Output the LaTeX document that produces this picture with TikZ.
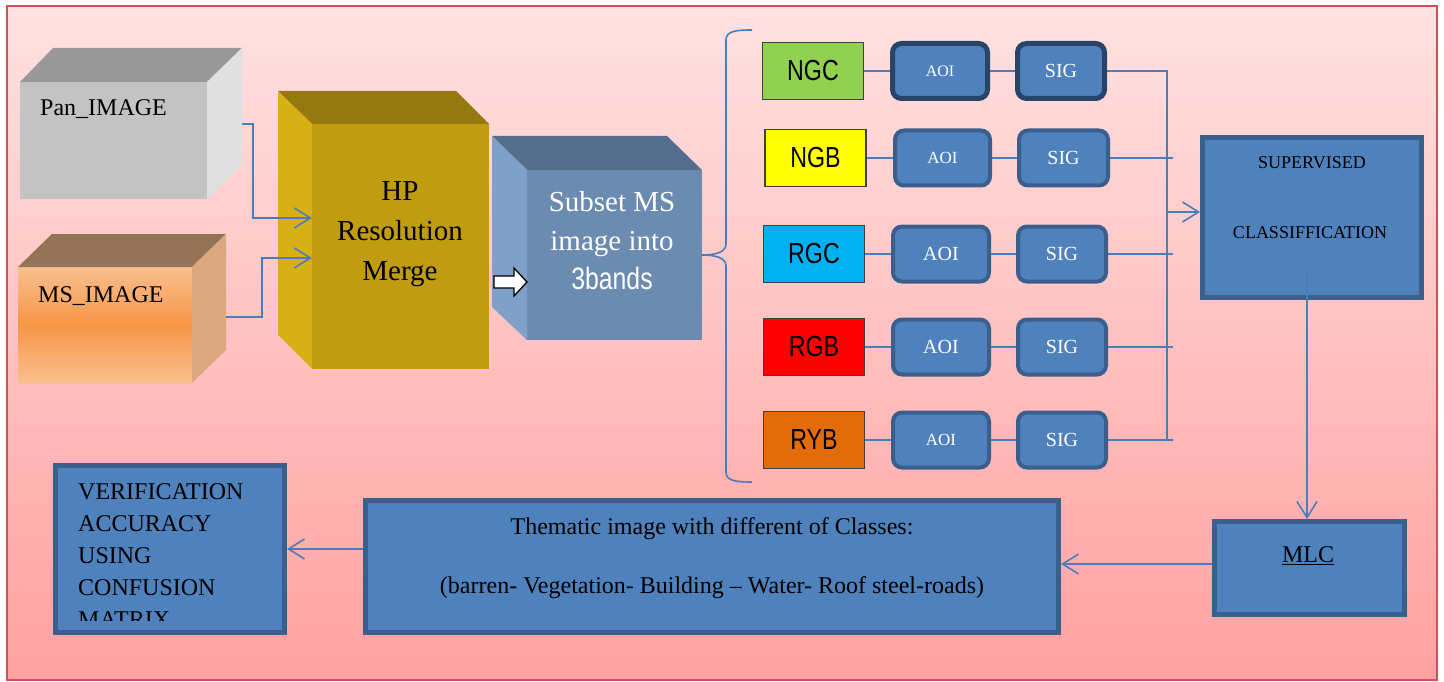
\documentclass[tikz,border=0pt]{standalone}
\usepackage{fontspec}
\setmainfont{Liberation Serif}
\newfontfamily\nsans[FakeStretch=0.8]{Liberation Sans}
\usetikzlibrary{arrows.meta}
\definecolor{boxblue}{HTML}{4F81BD}
\definecolor{edgeA}{HTML}{284468}
\definecolor{edgeB}{HTML}{3A5F8C}
\definecolor{lineblue}{HTML}{4A7EBB}
\definecolor{bordred}{HTML}{C9555A}
\definecolor{bgtop}{HTML}{FFE2E2}
\definecolor{bgbot}{HTML}{FFA0A0}
\definecolor{cgreen}{HTML}{92D050}
\definecolor{cyellow}{HTML}{FFFF00}
\definecolor{ccyan}{HTML}{00B0F0}
\definecolor{cred}{HTML}{FF0000}
\definecolor{corange}{HTML}{E36C09}
\definecolor{panfront}{HTML}{C3C3C3}
\definecolor{pantop}{HTML}{999999}
\definecolor{panside}{HTML}{E0E0E0}
\definecolor{mstop}{HTML}{957356}
\definecolor{msside}{HTML}{DBA880}
\definecolor{mslight}{HTML}{FABF8F}
\definecolor{msdark}{HTML}{F79646}
\definecolor{hpfront}{HTML}{BF9C10}
\definecolor{hptop}{HTML}{947810}
\definecolor{hpside}{HTML}{D7B016}
\definecolor{subfront}{HTML}{6B8BB0}
\definecolor{subtop}{HTML}{566E8D}
\definecolor{subside}{HTML}{7EA0C9}
\begin{document}
\begin{tikzpicture}[x=1pt,y=-1pt,
  wire/.style={draw=lineblue, line width=1.6pt},
  arr/.style={wire, -{Straight Barb[length=16pt,width=20pt]}},
  face/.style={rectangle, inner sep=0pt, draw=none},
  rbox/.style={rectangle, rounded corners=9pt, fill=boxblue, draw=edgeB, line width=4pt, text=white, inner sep=0pt, minimum height=55pt},
  bbox/.style={rectangle, fill=boxblue, draw=edgeB, line width=5pt, inner sep=0pt},
  cbox/.style={rectangle, draw=black!75, line width=1.2pt, minimum width=101pt, minimum height=57pt, inner sep=0pt, font=\nsans\fontsize{29}{29}\selectfont},
  txt/.style={inner sep=0pt, font=\fontsize{24}{24}\selectfont}]
\useasboundingbox (0,0) rectangle (1444,682);
% background
\shade[top color=bgtop, bottom color=bgbot] (7,6) rectangle (1437,680);
\draw[bordred, line width=2.5pt] (7,6) rectangle (1437,680);

% Pan cube
\node[face, fill=panfront, minimum width=187pt, minimum height=117pt] (pan) at (113.5,140.5) {};
\fill[pantop] (20,82) -- (53,48) -- (242,48) -- (207,82) -- cycle;
\fill[panside] (207,82) -- (242,48) -- (242,165) -- (207,199) -- cycle;
\node[txt, anchor=base west] (pant) at (40,116) {Pan\_IMAGE};

% MS cube
\shade[top color=mslight, bottom color=mslight, middle color=msdark] (18,267) rectangle (192,383);
\node[face, minimum width=174pt, minimum height=116pt] (ms) at (105,325) {};
\fill[mstop] (18,267) -- (52,234) -- (226,234) -- (192,267) -- cycle;
\fill[msside] (192,267) -- (226,234) -- (226,350) -- (192,383) -- cycle;
\node[txt, anchor=base west] (mst) at (38,302) {MS\_IMAGE};

% HP cube
\node[face, fill=hpfront, minimum width=177pt, minimum height=245pt] (hp) at (400.5,246.5) {};
\fill[hptop] (278,91) -- (456,91) -- (489,124) -- (312,124) -- cycle;
\fill[hpside] (278,91) -- (312,124) -- (312,369) -- (278,335) -- cycle;
\node[align=center, inner sep=0pt, font=\fontsize{29}{40}\selectfont] (hpt) at (400,234) {HP\\Resolution\\Merge};

% Subset cube
\node[face, fill=subfront, minimum width=175pt, minimum height=170pt] (sub) at (614.5,255) {};
\fill[subtop] (492,136) -- (667,136) -- (702,170) -- (527,170) -- cycle;
\fill[subside] (492,136) -- (527,170) -- (527,340) -- (492,307) -- cycle;
\node[align=center, inner sep=0pt, text=white, font=\fontsize{29}{39}\selectfont] (subt) at (612,241) {Subset MS\\image into\\{\nsans\fontsize{31}{39}\selectfont 3bands}};

% hollow arrow HP -> Subset
\draw[black, line width=1.3pt, fill=white] (494,276) -- (514,276) -- (514,268) -- (527,282) -- (514,296) -- (514,288) -- (494,288) -- cycle;

% connectors into HP
\coordinate (panout) at (242,124);
\coordinate (msout) at (226,317);
\draw[arr] (panout) -- ++(11,0) |- ([yshift=28.5pt]hp.west);
\draw[arr] (msout) -- ++(36,0) |- ([yshift=-11.5pt]hp.west);

% brace
\draw[wire] (752,30) .. controls (736,30) and (726,31) .. (726,40) -- (726,244)
  .. controls (726,252) and (716,255) .. (sub.east)
  .. controls (716,255) and (726,258) .. (726,266) -- (726,472)
  .. controls (726,481) and (736,482) .. (752,482);

% colour boxes
\node[cbox, fill=cgreen] (ngc) at (813,71) {NGC};
\node[cbox, fill=cyellow] (ngb) at (815.5,158) {NGB};
\node[cbox, fill=ccyan] (rgc) at (814,254) {RGC};
\node[cbox, fill=cred] (rgb) at (814,347) {RGB};
\node[cbox, fill=corange] (ryb) at (814,440) {RYB};

% AOI / SIG
\node[rbox, draw=edgeA, line width=5pt, minimum width=95pt, font=\fontsize{16}{16}\selectfont] (aoi1) at (940,71) {AOI};
\node[rbox, draw=edgeA, line width=5pt, minimum width=87pt, font=\fontsize{20}{20}\selectfont] (sig1) at (1061,71) {SIG};
\node[rbox, minimum width=95pt, font=\fontsize{17}{17}\selectfont] (aoi2) at (942.5,158) {AOI};
\node[rbox, minimum width=89pt, font=\fontsize{20}{20}\selectfont] (sig2) at (1063.5,158) {SIG};
\node[rbox, minimum width=96pt, font=\fontsize{20}{20}\selectfont] (aoi3) at (941,254) {AOI};
\node[rbox, minimum width=88pt, font=\fontsize{20}{20}\selectfont] (sig3) at (1062,254) {SIG};
\node[rbox, minimum width=96pt, font=\fontsize{20}{20}\selectfont] (aoi4) at (941,347) {AOI};
\node[rbox, minimum width=88pt, font=\fontsize{20}{20}\selectfont] (sig4) at (1062,347) {SIG};
\node[rbox, minimum width=96pt, font=\fontsize{17}{17}\selectfont] (aoi5) at (941,440) {AOI};
\node[rbox, minimum width=88pt, font=\fontsize{20}{20}\selectfont] (sig5) at (1062,440) {SIG};

\draw[wire] (ngc) -- (aoi1); \draw[wire] (aoi1) -- (sig1);
\draw[wire] (ngb) -- (aoi2); \draw[wire] (aoi2) -- (sig2);
\draw[wire] (rgc) -- (aoi3); \draw[wire] (aoi3) -- (sig3);
\draw[wire] (rgb) -- (aoi4); \draw[wire] (aoi4) -- (sig4);
\draw[wire] (ryb) -- (aoi5); \draw[wire] (aoi5) -- (sig5);

% bus
\coordinate (busTop) at (1167,71);
\coordinate (busBot) at (1167,440);
\draw[wire] (sig1.east) -- (busTop) -- (busBot);
\draw[wire] (sig2.east) -- ([xshift=6pt]sig2.east -| busTop);
\draw[wire] (sig3.east) -- ([xshift=6pt]sig3.east -| busTop);
\draw[wire] (sig4.east) -- ([xshift=6pt]sig4.east -| busTop);
\draw[wire] (sig5.east) -- ([xshift=6pt]sig5.east -| busTop);

% supervised classification
\node[bbox, minimum width=219pt, minimum height=160pt] (sup) at (1312,217.5) {};
\node[inner sep=0pt, font=\fontsize{18}{18}\selectfont] (supt1) at (1312,163) {SUPERVISED};
\node[inner sep=0pt, font=\fontsize{18}{18}\selectfont] (supt2) at (1310,233) {CLASSIFFICATION};
\draw[arr] ([yshift=5.5pt]busTop |- sup.west) -- ([yshift=5.5pt]sup.west);

% MLC
\node[bbox, minimum width=190pt, minimum height=93pt] (mlc) at (1309.5,568) {};
\node[txt] (mlct) at (1308,556) {\underline{MLC}};
\coordinate (supout) at (1307,273);
\draw[wire] (supout) -- (sup.south -| supout);
\draw[arr] (sup.south -| supout) -- (supout |- mlc.north);

% thematic
\node[bbox, minimum width=693pt, minimum height=132pt] (them) at (712,566.5) {};
\node[txt] (themt1) at (712,529) {Thematic image with different of Classes:};
\node[txt] (themt2) at (712,588) {(barren- Vegetation- Building -- Water- Roof steel-roads)};
\draw[arr] ([yshift=4pt]mlc.west) -- ([yshift=4pt]mlc.west -| them.east);

% verification
\node[bbox, minimum width=229pt, minimum height=167pt] (ver) at (170,549) {};
\begin{scope}
\clip (60,470) rectangle (282,620);
\node[anchor=north west, align=left, inner sep=0pt, font=\fontsize{24}{32}\selectfont] (vert) at (78,483) {VERIFICATION\\ACCURACY\\USING\\CONFUSION\\MATRIX};
\end{scope}
\draw[arr] (them.west |- ver.east) -- (ver.east);
\end{tikzpicture}
\end{document}
